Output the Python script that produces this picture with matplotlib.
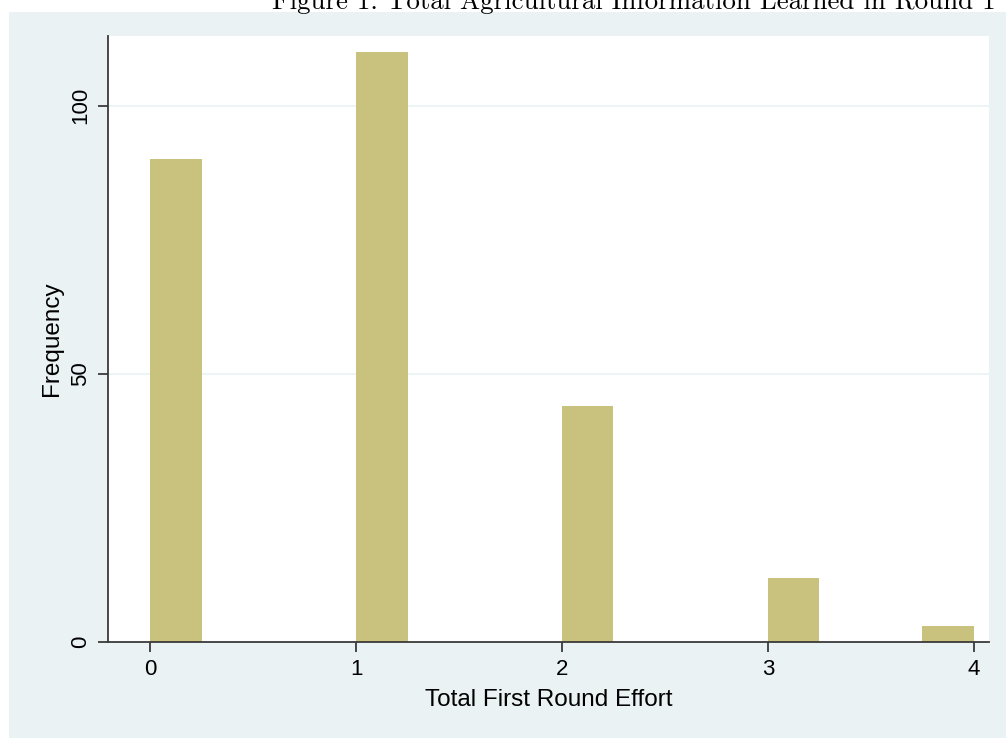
import matplotlib
matplotlib.use("Agg")
import matplotlib.pyplot as plt
from matplotlib.patches import Rectangle

# histogram bins (width 0.25) and their counts
bin_left = [0.0, 1.0, 2.0, 3.0, 3.75]
counts = [90, 110, 44, 12, 3]
bin_width = 0.25
x_ticks = [0, 1, 2, 3, 4]
y_ticks = [0, 50, 100]

BG = "#EAF2F3"
BAR = "#C8C27E"
AXC = "#3A3A3A"

fig = plt.figure(figsize=(10.06, 7.38), dpi=100)
fig.patch.set_facecolor("white")
bg = Rectangle((9 / 1006, 0), 1 - 9 / 1006, 1 - 12 / 738,
               transform=fig.transFigure, facecolor=BG, edgecolor="none", zorder=-5)
fig.add_artist(bg)

ax = fig.add_axes([108 / 1006, 1 - 642 / 738, (989 - 108) / 1006, (642 - 36) / 738])
ax.set_facecolor("white")
ax.bar(bin_left, counts, width=bin_width, align="edge", color=BAR,
       edgecolor="none", zorder=2)

ax.set_xlim(-0.204, 4.073)
ax.set_ylim(0, 113)
ax.set_xticks(x_ticks)
ax.set_yticks(y_ticks)
for v in y_ticks[1:]:
    ax.axhline(v, color=BG, lw=1.2, zorder=1)

for s in ["top", "right"]:
    ax.spines[s].set_visible(False)
for s in ["left", "bottom"]:
    ax.spines[s].set_color(AXC)
    ax.spines[s].set_linewidth(1.3)
ax.tick_params(axis="both", direction="out", length=7, width=1.3, color=AXC,
               labelsize=16, labelcolor="black", pad=5)
for lab in ax.get_yticklabels():
    lab.set_rotation(90)
    lab.set_va("center")

fontname = "Liberation Sans"
for lab in ax.get_xticklabels() + ax.get_yticklabels():
    lab.set_fontfamily(fontname)
ax.set_xlabel("Total First Round Effort", fontsize=17.5, fontfamily=fontname, labelpad=7)
ax.set_ylabel("Frequency", fontsize=17.5, fontfamily=fontname, labelpad=5)

fig.text(272 / 1006, 1 - 9 / 738,
         "Figure 1: Total Agricultural Information Learned in Round 1",
         fontsize=19.4, fontfamily="cmr10", ha="left", va="baseline")

fig.savefig("out.png", dpi=100)
